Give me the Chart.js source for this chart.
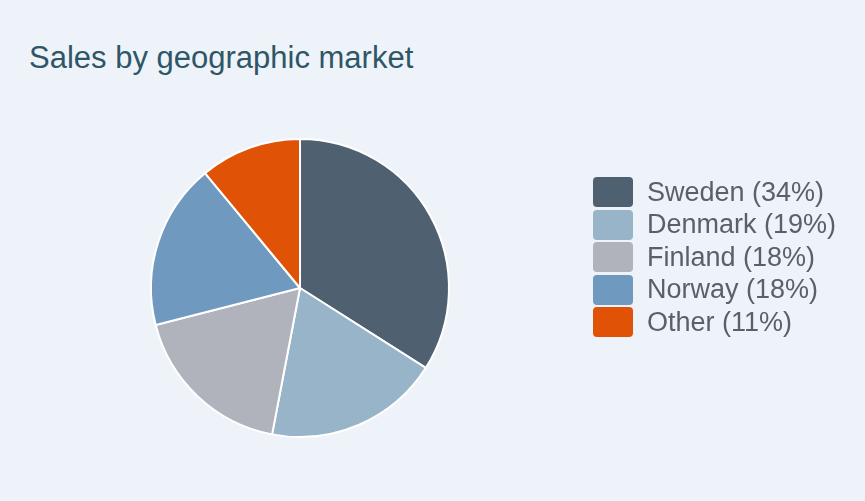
<!DOCTYPE html>
<html>
<head>
<meta charset="utf-8">
<script src="https://cdn.jsdelivr.net/npm/chart.js@4"></script>
<style>
  html, body { margin: 0; padding: 0; }
  body {
    width: 865px; height: 501px; overflow: hidden;
    background: #eef3fa;
    font-family: "Liberation Sans", Arial, sans-serif;
    position: relative;
  }
  #titulo {
    position: absolute; left: 29px; top: 40px;
    font-size: 31px; color: #2f5666; white-space: nowrap;
  }
  #grafico { position: absolute; left: 0; top: 0; }
  #legenda {
    position: absolute; left: 593px; top: 176px;
  }
  .item { display: flex; align-items: center; height: 32.5px; }
  .caixa { width: 40px; height: 30px; border-radius: 4px; margin-right: 14px; }
  .rotulo { font-size: 27px; color: #5b6068; white-space: nowrap; }
</style>
</head>
<body>
<div id="titulo">Sales by geographic market</div>
<canvas id="grafico" width="865" height="501"></canvas>
<div id="legenda"></div>
<script>
const mercados = ["Sweden", "Denmark", "Finland", "Norway", "Other"];
const percentuais = [34, 19, 18, 18, 11];
const cores = ["#4f6170", "#98b4c8", "#b0b3bb", "#6f99be", "#e05206"];

// Legenda em HTML, à direita da pizza
const legenda = document.getElementById("legenda");
mercados.forEach((m, i) => {
  const div = document.createElement("div");
  div.className = "item";
  div.innerHTML = `
    <span class="caixa" style="background:${cores[i]}"></span>
    <span class="rotulo">${m} (${percentuais[i]}%)</span>
  `;
  legenda.appendChild(div);
});

new Chart(document.getElementById("grafico"), {
  type: "pie",
  data: {
    labels: mercados,
    datasets: [{
      data: percentuais,
      backgroundColor: cores,
      borderColor: "#ffffff",
      borderWidth: 2,
    }],
  },
  options: {
    responsive: false,
    animation: false,
    layout: { padding: { left: 150, right: 415, top: 138, bottom: 63 } },
    plugins: { legend: { display: false }, tooltip: { enabled: false } },
  },
});
</script>
</body>
</html>
